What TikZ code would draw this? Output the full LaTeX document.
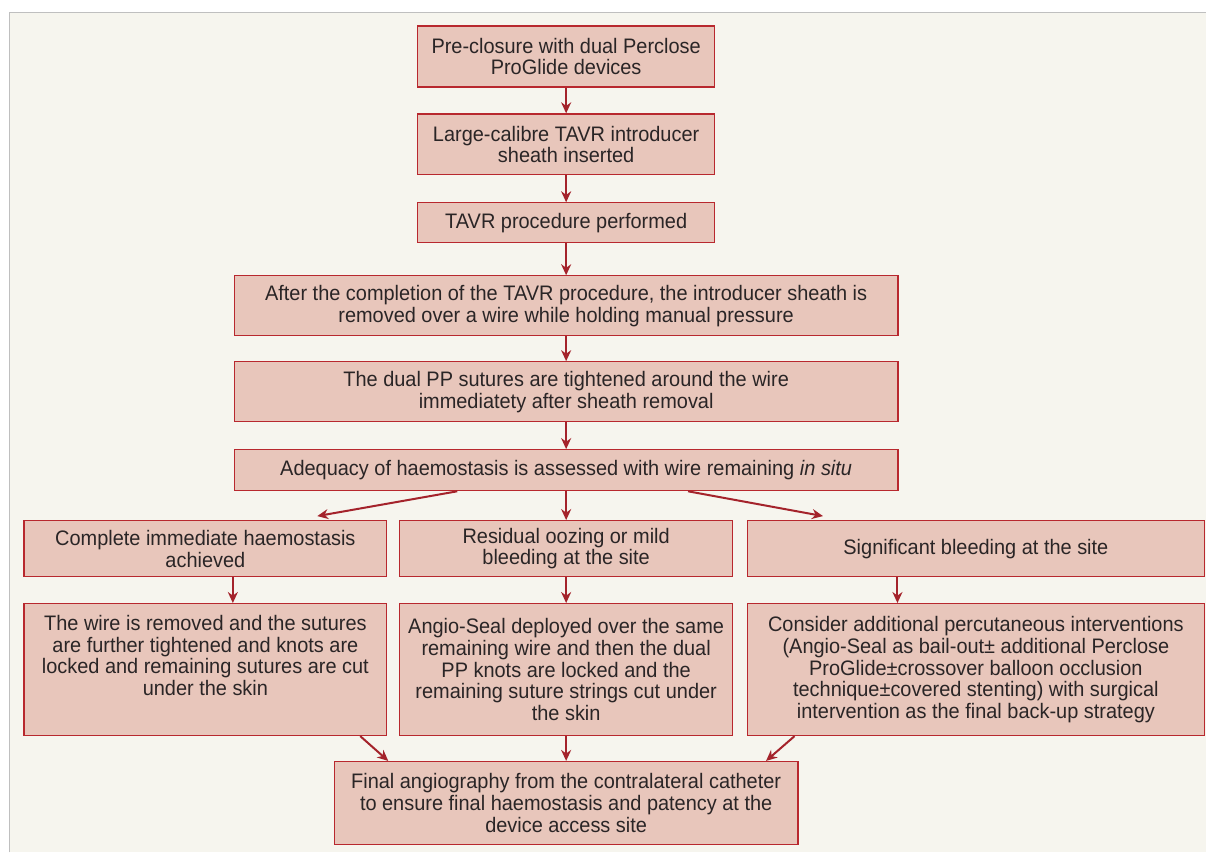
\documentclass[tikz,border=0pt]{standalone}
\usepackage{fontspec}
\setmainfont[FakeStretch=0.95]{Liberation Sans}
\usetikzlibrary{arrows.meta}
\definecolor{panel}{HTML}{F6F5EE}
\definecolor{boxfill}{HTML}{E8C6BB}
\definecolor{boxline}{HTML}{B8282E}
\definecolor{arrowc}{HTML}{A4232B}
\definecolor{txt}{HTML}{2A2526}
\tikzset{
 box/.style={draw=boxline, line width=1.2pt, fill=boxfill, align=center, inner sep=0pt, text=txt, font=\fontsize{21}{21.7}\selectfont},
 flow/.style={draw=arrowc, line width=2pt, -{Stealth[length=11pt,width=10pt]}},
}
\begin{document}
\begin{tikzpicture}[x=1pt,y=-1pt]
\fill[white] (0,0) rectangle (1207,853);
\fill[panel] (9.5,12.5) rectangle (1207,853);
\draw[black!25, line width=1.5pt] (9.5,853) -- (9.5,12.5) -- (1207,12.5);
\node[box, minimum width=297, minimum height=61] (b1) at (566.5,56.5) {Pre-closure with dual Perclose\\ProGlide devices};
\node[box, minimum width=297, minimum height=61] (b2) at (566.5,144.5) {Large-calibre TAVR introducer\\sheath inserted};
\node[box, minimum width=297, minimum height=40] (b3) at (566.5,223) {TAVR procedure performed};
\node[box, minimum width=664, minimum height=60] (b4) at (566.5,306) {After the completion of the TAVR procedure, the introducer sheath is\\removed over a wire while holding manual pressure};
\node[box, minimum width=664, minimum height=60] (b5) at (566.5,392) {The dual PP sutures are tightened around the wire\\immediatety after sheath removal};
\node[box, minimum width=664, minimum height=41] (b6) at (566.5,470.5) {Adequacy of haemostasis is assessed with wire remaining \textit{in situ}};
\node[box, minimum width=363, minimum height=56] (b7a) at (205.5,549) {Complete immediate haemostasis\\achieved};
\node[box, minimum width=333, minimum height=56] (b7b) at (566.5,549) {Residual oozing or mild\\bleeding at the site};
\node[box, minimum width=457, minimum height=56] (b7c) at (976.5,549) {Significant bleeding at the site};
\node[box, minimum width=363, minimum height=132] (b8a) at (205.5,670) {The wire is removed and the sutures\\are further tightened and knots are\\locked and remaining sutures are cut\\under the skin\\\strut};
\node[box, minimum width=333, minimum height=132] (b8b) at (566.5,670) {Angio-Seal deployed over the same\\remaining wire and then the dual\\PP knots are locked and the\\remaining suture strings cut under\\the skin};
\node[box, minimum width=457, minimum height=132] (b8c) at (976.5,670) {Consider additional percutaneous interventions\\(Angio-Seal as bail-out± additional Perclose\\ProGlide±crossover balloon occlusion\\technique±covered stenting) with surgical\\intervention as the final back-up strategy};
\node[box, minimum width=464, minimum height=83] (b9) at (566.5,803.5) {Final angiography from the contralateral catheter\\to ensure final haemostasis and patency at the\\device access site};
\draw[flow] (b1) -- (b2);
\draw[flow] (b2) -- (b3);
\draw[flow] (b3) -- (b4);
\draw[flow] (b4) -- (b5);
\draw[flow] (b5) -- (b6);
\draw[flow] (b6) -- (b7b);
\draw[flow] ([xshift=-109pt]b6.south) -- ([xshift=112pt,yshift=4pt]b7a.north);
\draw[flow] ([xshift=122pt]b6.south) -- ([xshift=-153pt,yshift=4pt]b7c.north);
\draw[flow] ([xshift=27.5pt]b7a.south) -- ([xshift=27.5pt]b8a.north);
\draw[flow] (b7b) -- (b8b);
\draw[flow] ([xshift=-78.5pt]b7c.south) -- ([xshift=-78.5pt]b8c.north);
\draw[flow] ([xshift=155pt]b8a.south) -- ([xshift=-178pt]b9.north);
\draw[flow] (b8b) -- (b9);
\draw[flow] ([xshift=-181.5pt]b8c.south) -- ([xshift=200pt]b9.north);
\end{tikzpicture}
\end{document}
